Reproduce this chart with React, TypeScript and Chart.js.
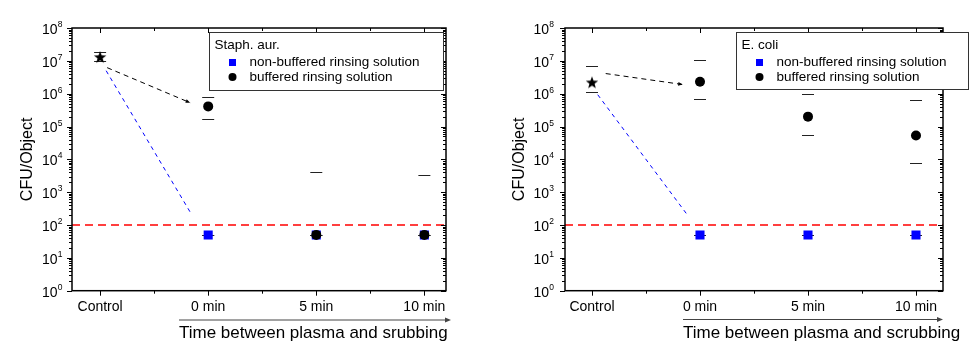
import React, { useEffect, useRef } from 'react';
import { Chart, registerables } from 'chart.js';

Chart.register(...registerables);

const FONT = '"Liberation Sans", Arial, Helvetica, sans-serif';

// ---------- data ----------
const categories = ['Control', '0 min', '5 min', '10 min'];
const categoryPositions = [0, 1, 2, 3];
const minorCategoryPositions = [0.5, 1.5, 2.5];
const treatmentPositions = [1, 2, 3];
const controlPosition = [0];
const decadeExponents = [0, 1, 2, 3, 4, 5, 6, 7, 8];
const detectionLimit = 100;
const legendLabels = ['non-buffered rinsing solution', 'buffered rinsing solution'];
const yAxisTitle = 'CFU/Object';

// Staph. aur.
const staphControl = [1.3e7];
const staphControlHigh = [1.9e7];
const staphControlLow = [9.7e6];
const staphNonBuffered = [50, 50, 50];
const staphNonBufferedHigh = [50, 50, 50];
const staphNonBufferedLow = [50, 50, 50];
const staphBuffered = [4.1e5, 50, 50];
const staphBufferedHigh = [8.2e5, 4.2e3, 3.4e3];
const staphBufferedLow = [1.7e5, 50, 50];
const staphBlackTrendX = [0.065, 0.833];
const staphBlackTrendY = [6.2e6, 5.3e5];
const staphBlueTrendX = [0.056, 0.85];
const staphBlueTrendY = [5.0e6, 2.0e2];

// E. coli
const coliControl = [2.2e6];
const coliControlHigh = [7.2e6];
const coliControlLow = [1.1e6];
const coliNonBuffered = [50, 50, 50];
const coliNonBufferedHigh = [50, 50, 50];
const coliNonBufferedLow = [50, 50, 50];
const coliBuffered = [2.3e6, 2.0e5, 5.3e4];
const coliBufferedHigh = [1.07e7, 1.0e6, 6.3e5];
const coliBufferedLow = [6.9e5, 5.5e4, 7.9e3];
const coliBlackTrendX = [0.127, 0.84];
const coliBlackTrendY = [4.1e6, 1.9e6];
const coliBlueTrendX = [0.053, 0.88];
const coliBlueTrendY = [9.3e5, 2.1e2];

// ---------- panels ----------
type Panel = {
  legendTitle: string;
  xTitle: string;
  xMin: number;
  xMax: number;
  control: number[]; controlHigh: number[]; controlLow: number[];
  nonBuffered: number[]; nonBufferedHigh: number[]; nonBufferedLow: number[];
  buffered: number[]; bufferedHigh: number[]; bufferedLow: number[];
  blackX: number[]; blackY: number[]; blueX: number[]; blueY: number[];
  box: {
    offsetX: number; width: number; yAxisWidth: number; rightPad: number;
    yTitlePad: number; labelGap: number;
    legend: { x: number; y: number; w: number; h: number };
    arrow: { x1: number; x2: number; y: number };
  };
};

const panels: Panel[] = [
  {
    legendTitle: 'Staph. aur.',
    xTitle: 'Time between plasma and srubbing',
    xMin: -0.26, xMax: 3.2,
    control: staphControl, controlHigh: staphControlHigh, controlLow: staphControlLow,
    nonBuffered: staphNonBuffered, nonBufferedHigh: staphNonBufferedHigh, nonBufferedLow: staphNonBufferedLow,
    buffered: staphBuffered, bufferedHigh: staphBufferedHigh, bufferedLow: staphBufferedLow,
    blackX: staphBlackTrendX, blackY: staphBlackTrendY, blueX: staphBlueTrendX, blueY: staphBlueTrendY,
    box: {
      offsetX: 0, width: 490, yAxisWidth: 72, rightPad: 44, yTitlePad: 18, labelGap: 9.5,
      legend: { x: 209, y: 32, w: 234, h: 58 },
      arrow: { x1: 179, x2: 451, y: 320 },
    },
  },
  {
    legendTitle: 'E. coli',
    xTitle: 'Time between plasma and scrubbing',
    xMin: -0.25, xMax: 3.25,
    control: coliControl, controlHigh: coliControlHigh, controlLow: coliControlLow,
    nonBuffered: coliNonBuffered, nonBufferedHigh: coliNonBufferedHigh, nonBufferedLow: coliNonBufferedLow,
    buffered: coliBuffered, bufferedHigh: coliBufferedHigh, bufferedLow: coliBufferedLow,
    blackX: coliBlackTrendX, blackY: coliBlackTrendY, blueX: coliBlueTrendX, blueY: coliBlueTrendY,
    box: {
      offsetX: 490, width: 489, yAxisWidth: 75, rightPad: 36, yTitlePad: 20, labelGap: 11,
      legend: { x: 246, y: 32, w: 232, h: 57 },
      arrow: { x1: 193, x2: 453, y: 319.5 },
    },
  },
];

let starImage: HTMLCanvasElement | null = null;
function getStar(): HTMLCanvasElement {
  if (starImage) return starImage;
  const c = document.createElement('canvas');
  c.width = 16; c.height = 16;
  const ctx = c.getContext('2d')!;
  const R = 6.5, r = 2.7;
  ctx.beginPath();
  for (let i = 0; i < 10; i++) {
    const rad = i % 2 === 0 ? R : r;
    const a = -Math.PI / 2 + (i * Math.PI) / 5;
    const px = 8 + rad * Math.cos(a);
    const py = 8.5 + rad * Math.sin(a);
    if (i === 0) ctx.moveTo(px, py); else ctx.lineTo(px, py);
  }
  ctx.closePath();
  ctx.fillStyle = '#000';
  ctx.fill();
  starImage = c;
  return c;
}

function makePlugin(p: Panel) {
  const caps = (ctx: CanvasRenderingContext2D, xs: any, ys: any, pos: number[], hi: number[], lo: number[]) => {
    pos.forEach((xv, i) => {
      const px = xs.getPixelForValue(xv);
      [hi[i], lo[i]].forEach((v) => {
        const py = Math.round(ys.getPixelForValue(v)) + 0.5;
        ctx.beginPath();
        ctx.moveTo(px - 6, py);
        ctx.lineTo(px + 6, py);
        ctx.stroke();
      });
    });
  };
  return {
    id: 'originFrame',
    beforeDatasetsDraw(chart: any) {
      const { ctx, chartArea: ca } = chart;
      const xs = chart.scales.x, ys = chart.scales.y;
      ctx.save();
      const ly = ys.getPixelForValue(detectionLimit);
      ctx.strokeStyle = '#ff0000';
      ctx.lineWidth = 1.5;
      ctx.setLineDash([8, 5]);
      ctx.beginPath();
      ctx.moveTo(ca.left, ly);
      ctx.lineTo(ca.right, ly);
      ctx.stroke();
      ctx.setLineDash([]);
      ctx.strokeStyle = '#222';
      ctx.lineWidth = 1;
      caps(ctx, xs, ys, controlPosition, p.controlHigh, p.controlLow);
      caps(ctx, xs, ys, treatmentPositions, p.nonBufferedHigh, p.nonBufferedLow);
      caps(ctx, xs, ys, treatmentPositions, p.bufferedHigh, p.bufferedLow);
      ctx.restore();
    },
    afterDatasetsDraw(chart: any) {
      const { ctx } = chart;
      chart.data.datasets.forEach((ds: any, i: number) => {
        if (!ds.arrowHead) return;
        const pts = chart.getDatasetMeta(i).data;
        if (pts.length < 2) return;
        const a = pts[pts.length - 2], b = pts[pts.length - 1];
        const ang = Math.atan2(b.y - a.y, b.x - a.x);
        ctx.save();
        ctx.translate(b.x, b.y);
        ctx.rotate(ang);
        ctx.fillStyle = ds.borderColor;
        ctx.beginPath();
        ctx.moveTo(0, 0);
        ctx.lineTo(-4.5, -1.8);
        ctx.lineTo(-4.5, 1.8);
        ctx.closePath();
        ctx.fill();
        ctx.restore();
      });
    },
    afterDraw(chart: any) {
      const { ctx, chartArea: ca } = chart;
      const xs = chart.scales.x, ys = chart.scales.y;
      ctx.save();
      ctx.strokeStyle = '#000';
      ctx.lineWidth = 1.5;
      ctx.strokeRect(ca.left, ca.top, ca.right - ca.left, ca.bottom - ca.top);
      ctx.lineWidth = 1;
      const xTick = (v: number, len: number) => {
        const px = Math.round(xs.getPixelForValue(v)) + 0.5;
        ctx.beginPath();
        ctx.moveTo(px, ca.bottom);
        ctx.lineTo(px, ca.bottom + len);
        ctx.moveTo(px, ca.top);
        ctx.lineTo(px, ca.top + len);
        ctx.stroke();
      };
      categoryPositions.forEach((v) => xTick(v, 5));
      minorCategoryPositions.forEach((v) => xTick(v, 3));
      const yTick = (v: number, len: number) => {
        const py = Math.round(ys.getPixelForValue(v)) + 0.5;
        ctx.beginPath();
        ctx.moveTo(ca.left - len, py);
        ctx.lineTo(ca.left, py);
        ctx.moveTo(ca.right - len, py);
        ctx.lineTo(ca.right, py);
        ctx.stroke();
      };
      decadeExponents.forEach((e, k) => {
        yTick(Math.pow(10, e), 5);
        if (k < decadeExponents.length - 1) {
          for (let m = 2; m <= 9; m++) yTick(m * Math.pow(10, e), 3);
        }
      });
      ctx.fillStyle = '#000';
      ctx.textBaseline = 'alphabetic';
      ctx.textAlign = 'right';
      decadeExponents.forEach((e) => {
        const py = ys.getPixelForValue(Math.pow(10, e));
        const xr = ca.left - p.box.labelGap;
        ctx.font = `8.5px ${FONT}`;
        const sup = String(e);
        const supW = ctx.measureText(sup).width;
        ctx.fillText(sup, xr, py - 1);
        ctx.font = `14px ${FONT}`;
        ctx.fillText('10', xr - supW - 0.3, py + 5.8);
      });
      const ar = p.box.arrow;
      ctx.strokeStyle = '#444';
      ctx.fillStyle = '#444';
      ctx.lineWidth = 1;
      ctx.beginPath();
      ctx.moveTo(ar.x1, ar.y);
      ctx.lineTo(ar.x2 - 4, ar.y);
      ctx.stroke();
      ctx.beginPath();
      ctx.moveTo(ar.x2, ar.y);
      ctx.lineTo(ar.x2 - 6, ar.y - 2.5);
      ctx.lineTo(ar.x2 - 6, ar.y + 2.5);
      ctx.closePath();
      ctx.fill();
      ctx.fillStyle = '#000';
      ctx.textAlign = 'left';
      ctx.textBaseline = 'middle';
      ctx.font = `17px ${FONT}`;
      ctx.fillText(p.xTitle, ar.x1, ar.y + 13.5);
      const lg = p.box.legend;
      ctx.fillStyle = '#fff';
      ctx.fillRect(lg.x, lg.y, lg.w, lg.h);
      ctx.strokeStyle = '#333';
      ctx.lineWidth = 1;
      ctx.strokeRect(lg.x + 0.5, lg.y + 0.5, lg.w, lg.h);
      ctx.fillStyle = '#000';
      ctx.font = `13.5px ${FONT}`;
      ctx.fillText(p.legendTitle, lg.x + 5.5, lg.y + 13.5);
      const r1 = lg.y + 30.5, r2 = lg.y + 45;
      ctx.fillStyle = '#0000ff';
      ctx.fillRect(lg.x + 20, r1 - 3.5, 7, 7);
      ctx.fillStyle = '#000';
      ctx.beginPath();
      ctx.arc(lg.x + 23.5, r2, 4, 0, Math.PI * 2);
      ctx.fill();
      ctx.fillText(legendLabels[0], lg.x + 40.5, r1);
      ctx.fillText(legendLabels[1], lg.x + 40.5, r2);
      ctx.restore();
    },
  };
}

function PanelChart({ p }: { p: Panel }) {
  const ref = useRef<HTMLCanvasElement>(null);
  useEffect(() => {
    if (!ref.current) return;
    const toXY = (xs: number[], ys: number[]) => xs.map((x, i) => ({ x, y: ys[i] }));
    const chart = new Chart(ref.current, {
      type: 'scatter',
      data: {
        datasets: [
          {
            label: 'Control',
            data: toXY(controlPosition, p.control),
            pointStyle: getStar() as any,
            pointRadius: 7,
            order: 0,
          },
          {
            label: legendLabels[1],
            data: toXY(treatmentPositions, p.buffered),
            pointStyle: 'circle',
            pointRadius: 5,
            backgroundColor: '#000',
            borderColor: '#000',
            borderWidth: 0,
            order: 1,
          },
          {
            label: legendLabels[0],
            data: toXY(treatmentPositions, p.nonBuffered),
            pointStyle: 'rect',
            pointRadius: 6.4,
            backgroundColor: '#0000ff',
            borderColor: '#0000ff',
            borderWidth: 0,
            order: 2,
          },
          {
            label: 'buffered trend',
            data: toXY(p.blackX, p.blackY),
            showLine: true,
            borderColor: '#000',
            borderWidth: 1,
            borderDash: [5, 4],
            pointRadius: 0,
            arrowHead: true,
            order: 3,
          } as any,
          {
            label: 'non-buffered trend',
            data: toXY(p.blueX, p.blueY),
            showLine: true,
            borderColor: '#0000ff',
            borderWidth: 1,
            borderDash: [4, 4],
            pointRadius: 0,
            order: 4,
          },
        ],
      },
      options: {
        animation: false,
        responsive: false,
        devicePixelRatio: 1,
        layout: { padding: { top: 28, right: p.box.rightPad, left: 0, bottom: 0 } },
        plugins: { legend: { display: false }, tooltip: { enabled: false } },
        scales: {
          x: {
            type: 'linear',
            min: p.xMin,
            max: p.xMax,
            afterBuildTicks: (s: any) => {
              s.ticks = categoryPositions.map((v) => ({ value: v }));
            },
            afterFit: (s: any) => {
              s.height = 63.3;
            },
            ticks: {
              callback: (v: any) => {
                const i = categoryPositions.indexOf(Number(v));
                return i >= 0 ? categories[i] : '';
              },
              font: { family: FONT, size: 14 },
              color: '#000',
              padding: 8,
              maxRotation: 0,
              autoSkip: false,
            },
            grid: { display: false, drawTicks: false },
            border: { display: false },
          },
          y: {
            type: 'logarithmic',
            min: 1,
            max: 1e8,
            afterFit: (s: any) => {
              s.width = p.box.yAxisWidth;
            },
            ticks: { display: false },
            grid: { display: false, drawTicks: false },
            border: { display: false },
            title: {
              display: true,
              text: yAxisTitle,
              font: { family: FONT, size: 16 },
              color: '#000',
              padding: { top: p.box.yTitlePad, bottom: 0 },
            },
          },
        },
      },
      plugins: [makePlugin(p)],
    } as any);
    return () => chart.destroy();
  }, [p]);
  return (
    <canvas
      ref={ref}
      width={p.box.width}
      height={354}
      style={{ position: 'absolute', left: p.box.offsetX, top: 0, width: p.box.width, height: 354, display: 'block' }}
    />
  );
}

export default function App() {
  return (
    <div style={{ position: 'absolute', left: 0, top: 0, width: 979, height: 354, background: '#fff' }}>
      {panels.map((p, i) => (
        <PanelChart key={i} p={p} />
      ))}
    </div>
  );
}
